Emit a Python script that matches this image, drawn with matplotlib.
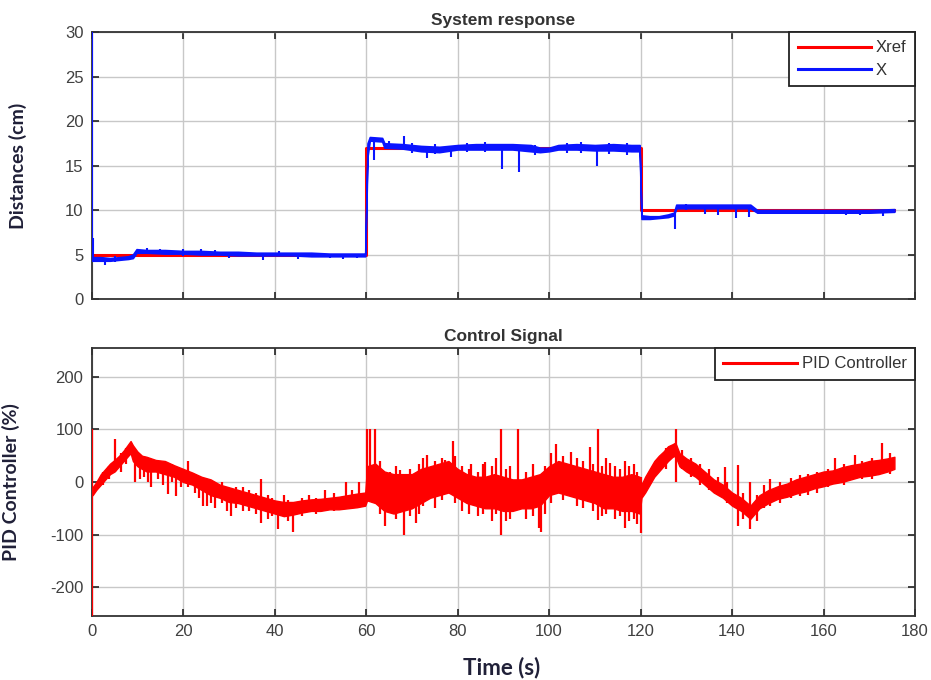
import numpy as np
import matplotlib.pyplot as plt

# ---- data ----
# reference position (cm)
ref_t = [0, 60, 120, 175.5]
ref_x = [5, 17, 10, 10]

# measured position: noise band (lower / upper edge) at each time
x_t = [0.1, 2, 4, 6, 8, 9, 9.8, 12, 16, 20, 24, 28, 32, 36, 40, 44, 48, 52, 56, 59.8,
       60.3, 60.8, 63.5, 64, 68, 72, 76, 80, 84, 88, 92, 96, 98, 100, 102, 106, 110, 114, 118, 119.8,
       120.2, 122, 124, 126, 127.3, 127.8, 130, 135, 140, 144, 145.5, 150, 155, 160, 165, 170, 175.5]
x_lo = [4.3, 4.3, 4.3, 4.4, 4.5, 4.6, 5.2, 5.2, 5.1, 5.1, 5.0, 5.0, 4.9, 4.9, 4.9, 4.9, 4.8, 4.8, 4.8, 4.8,
        16.0, 17.8, 17.7, 17.0, 16.9, 16.6, 16.5, 16.8, 16.8, 16.8, 16.8, 16.6, 16.5, 16.6, 16.8, 16.8, 16.7, 16.7, 16.6, 16.6,
        9.0, 9.0, 9.1, 9.2, 9.4, 10.2, 10.2, 10.2, 10.2, 10.2, 9.7, 9.7, 9.7, 9.7, 9.7, 9.7, 9.8]
x_hi = [4.7, 4.7, 4.6, 4.7, 4.8, 5.0, 5.6, 5.5, 5.5, 5.4, 5.4, 5.3, 5.3, 5.2, 5.2, 5.2, 5.2, 5.1, 5.1, 5.1,
        17.5, 18.2, 18.1, 17.5, 17.4, 17.2, 17.1, 17.3, 17.4, 17.4, 17.4, 17.3, 17.0, 17.0, 17.3, 17.4, 17.3, 17.4, 17.3, 17.3,
        9.4, 9.3, 9.3, 9.5, 9.7, 10.6, 10.6, 10.6, 10.6, 10.6, 10.0, 10.0, 10.0, 10.0, 10.0, 10.0, 10.1]
# measured position: isolated spikes (time, from, to)
xs_t = [0, 0.3, 3, 5, 12, 15, 20, 24, 27, 30, 37.5, 41, 45, 52, 55, 58,
        61.8, 65, 68.3, 70, 73.2, 75, 78.6, 82, 86, 89.6, 93.5, 97, 104, 107, 110.4, 113, 117,
        127.6, 130, 134, 137, 140.8, 143.7, 150, 158, 165, 168, 173]
xs_lo = [4.5, 4.5, 3.8, 4.2, 5.1, 5.1, 4.8, 4.9, 5.0, 4.6, 4.4, 4.8, 4.5, 4.6, 4.5, 4.6,
         15.6, 16.8, 17.0, 16.4, 15.9, 16.3, 16.0, 16.5, 16.5, 14.6, 14.3, 16.2, 16.4, 16.4, 14.9, 16.3, 16.2,
         7.9, 10.0, 9.6, 9.4, 9.1, 9.2, 9.5, 9.5, 9.4, 9.4, 9.3]
xs_hi = [30, 6.8, 4.5, 4.8, 5.7, 5.6, 5.6, 5.6, 5.5, 5.3, 5.1, 5.4, 5.1, 5.1, 5.1, 5.1,
         17.8, 17.7, 18.3, 17.5, 17.0, 17.4, 17.0, 17.5, 17.6, 16.9, 16.9, 17.3, 17.5, 17.6, 16.9, 17.5, 17.5,
         9.5, 10.7, 10.6, 10.3, 10.3, 10.3, 10.0, 10.0, 9.8, 10.0, 9.8]

# control signal (%): noise band
u_t = [0.2, 1, 2, 3, 4, 5, 6, 7, 8, 8.5, 9, 10, 11, 12, 14, 16, 18, 20, 22, 24, 26, 28, 30, 32, 34, 36, 38,
       40, 42, 44, 46, 48, 50, 52, 54, 56, 58, 59.8, 60.2, 62, 64, 66, 68, 70, 72, 74, 76, 78, 80, 82, 84,
       86, 88, 90, 92, 94, 96, 98, 100, 102, 104, 106, 108, 110, 112, 114, 116, 118, 119.8, 120.2, 121,
       122, 123, 124, 125, 126, 127, 127.6, 128.5, 130, 132, 134, 136, 138, 140, 142, 144, 145, 146, 148,
       150, 152, 154, 156, 158, 160, 162, 164, 166, 168, 170, 172, 174, 175.5]
u_lo = [-25, -15, -5, 5, 15, 20, 30, 40, 50, 55, 40, 30, 25, 20, 20, 15, 10, 0, -5, -15, -25, -30, -38, -40,
        -45, -50, -55, -60, -65, -62, -58, -55, -55, -52, -52, -50, -48, -45, -35, -40, -55, -60, -55, -50,
        -40, -30, -25, -20, -30, -40, -45, -50, -50, -55, -55, -50, -50, -45, -25, -20, -25, -30, -35, -40,
        -50, -50, -55, -55, -60, -30, -20, -5, 10, 20, 30, 40, 48, 50, 30, 20, 10, -5, -20, -30, -45, -55,
        -70, -60, -50, -40, -32, -28, -22, -18, -12, -8, -3, 0, 5, 10, 12, 15, 20, 25]
u_hi = [-10, 0, 15, 25, 35, 42, 50, 60, 72, 78, 70, 58, 50, 48, 42, 40, 32, 25, 18, 10, 5, -5, -10, -15,
        -20, -25, -30, -35, -38, -38, -35, -33, -32, -30, -28, -25, -22, -20, 30, 35, 20, 15, 15, 15, 25,
        30, 35, 40, 25, 15, 10, 10, 15, 10, 5, 5, 10, 15, 30, 40, 35, 30, 25, 20, 15, 10, 10, 15, 10, -5,
        10, 25, 40, 50, 58, 68, 72, 75, 55, 45, 35, 20, 5, -5, -20, -30, -45, -35, -25, -15, -8, -3, 5, 10,
        15, 20, 22, 28, 32, 35, 40, 42, 45, 48]
# control signal: spikes (time, from, to)
us_t = [0, 2.5, 3.8, 5.0, 6.5, 7.5, 9.5, 10.5, 11.5, 12.3, 13.0, 14.5, 15.5, 16.7, 17.5, 18.5, 19.5, 21.0,
        22.5, 23.5, 24.4, 25.3, 26, 27, 28.5, 29.5, 30.5, 31.5, 33, 34.5, 36, 37.1, 38.5, 39.5, 40.8, 42,
        43, 44.1, 46, 47.4, 49, 51.1, 53, 55.7, 57, 58.5,
        60.2, 60.8, 61.9, 63, 64.2, 65.3, 66.5, 67.5, 68.2, 69.5, 70.8, 71.5, 72.5, 73.3, 75, 76.5, 77.3,
        78.9, 79.5, 81, 82.5, 83, 84.5, 85.5, 86, 87.5, 88.5, 89.5, 90.5, 91.5, 93.3, 95, 96.5, 97.7, 98.3,
        99, 100.5, 101.6, 103, 104.9, 106, 107.5, 108.9, 109.5, 110.6, 111.5, 112.5, 113.3, 114.5, 115.5,
        116.6, 117.5, 118.5, 119.3, 120,
        125.5, 127.7, 129, 131, 133, 135, 137, 138.4, 139, 141.4, 142.5, 143.9, 145.5, 147, 148.2, 150.5,
        153, 154.8, 156.5, 158.5, 161, 162.5, 164.5, 166.9, 168.5, 170.5, 172.8, 174.5]
us_lo = [-255, -5, 5, 20, 20, 35, 0, 5, 10, 0, -9, 5, -5, -22, 0, -26, -10, -10,
         -20, -30, -45, -45, -40, -50, -40, -55, -64, -50, -55, -55, -60, -78, -70, -65, -90, -60,
         -75, -96, -65, -50, -60, -45, -55, -40, -50, -45,
         -30, -20, -35, -60, -83, -40, -70, -40, -100, -65, -78, -60, -45, -10, -50, -35, -10,
         -10, -40, -55, -60, -20, -65, -60, -20, -75, -60, -100, -75, -70, -20, -70, -65, -87, -95,
         -60, -40, 0, -35, 0, -45, -50, 0, -55, -72, -65, -60, -20, -70, -65,
         -87, -75, -70, -80, -97,
         25, 0, 25, 10, -5, -15, -25, -20, -40, -83, -70, -90, -75, -50, -45, -40,
         -30, -26, -25, -20, -10, 0, -5, 10, 5, 5, 20, 15]
us_hi = [100, 20, 30, 81, 55, 65, 60, 50, 50, 45, 40, 40, 35, 30, 35, 25, 25, 40,
         15, 10, 5, 5, 0, -5, 0, -10, -15, -10, -10, -15, -20, 5, -25, -30, -40, -25,
         -35, -40, -30, -25, -30, -15, -20, 0, -15, 0,
         100, 100, 100, 40, -20, 19, 30, 22, -30, 25, -20, 35, 45, 51, 40, 45, 41,
         79, 50, 30, 25, 35, 20, 35, 38, 30, 45, 100, 25, 30, 100, 20, 35, -20, -20,
         30, 55, 72, 50, 57, 45, 40, 66, 35, 100, 30, 45, 37, 30, 25,
         40, 30, 35, 20, 10,
         65, 100, 60, 45, 35, 25, 10, 29, 0, 32, -20, 0, -25, -5, 5, 0,
         8, 13, 15, 20, 25, 45, 35, 51, 40, 45, 74, 55]

RED = '#ff0000'
BLUE = '#0a14ff'
TXT = '#404040'

plt.rcParams['font.family'] = ['Liberation Sans', 'DejaVu Sans']
plt.rcParams['axes.unicode_minus'] = False

fig = plt.figure(figsize=(9.31, 6.8), dpi=100)
ax1 = fig.add_axes([0.0985, 0.5603, 0.8843, 0.3926])
ax2 = fig.add_axes([0.0985, 0.0941, 0.8843, 0.3941])

# ---- system response ----
ax1.plot(ref_t, ref_x, drawstyle='steps-post', color=RED, lw=2.2, label='Xref', zorder=3)
ax1.fill_between(x_t, x_lo, x_hi, color=BLUE, lw=1.2, zorder=4)
ax1.vlines(xs_t, xs_lo, xs_hi, color=BLUE, lw=1.5, zorder=4)
ax1.plot([], [], color=BLUE, lw=2.2, label='X')
ax1.set_ylim(0, 30)
ax1.set_yticks([0, 5, 10, 15, 20, 25, 30])
ax1.set_title('System response', fontsize=12.5, fontweight='bold', color='#333333', pad=5)
ax1.set_ylabel('Distances (cm)', fontsize=14, fontweight='bold', color='#202038', family='Lato')
ax1.yaxis.set_label_coords(-0.078, 0.5)
ax1.tick_params(labelbottom=False)

# ---- control signal ----
ax2.fill_between(u_t, u_lo, u_hi, color=RED, lw=1.0, zorder=3)
ax2.vlines(us_t, us_lo, us_hi, color=RED, lw=1.6, zorder=3)
ax2.plot([], [], color=RED, lw=2.2, label='PID Controller')
ax2.set_ylim(-255, 255)
ax2.set_yticks([-200, -100, 0, 100, 200])
ax2.set_title('Control Signal', fontsize=12.5, fontweight='bold', color='#333333', pad=5)
ax2.set_ylabel('PID Controller (%)', fontsize=14, fontweight='bold', color='#202038', family='Lato')
ax2.yaxis.set_label_coords(-0.087, 0.5)
ax2.set_xlabel('Time (s)', fontsize=16, fontweight='bold', color='#202038', family='Lato')
ax2.xaxis.set_label_coords(0.498, -0.15)

for ax in (ax1, ax2):
    ax.set_xlim(0, 180)
    ax.set_xticks(np.arange(0, 181, 20))
    ax.grid(True, color='#c8c8c8', lw=1.0)
    ax.set_axisbelow(True)
    ax.tick_params(direction='in', length=5, width=1.2, top=True, right=True,
                   labelsize=12, labelcolor=TXT, color='#222222', pad=6)
    for s in ax.spines.values():
        s.set_color('#333333')
        s.set_linewidth(1.3)
    leg = ax.legend(loc='upper right', borderaxespad=0, fancybox=False, framealpha=1,
                    edgecolor='#222222', fontsize=12, handlelength=4.4, handletextpad=0.3,
                    labelspacing=0.45, borderpad=0.5)
    leg.get_frame().set_linewidth(1.3)
    for t in leg.get_texts():
        t.set_color('#333333')

fig.savefig('out.png', dpi=100)
